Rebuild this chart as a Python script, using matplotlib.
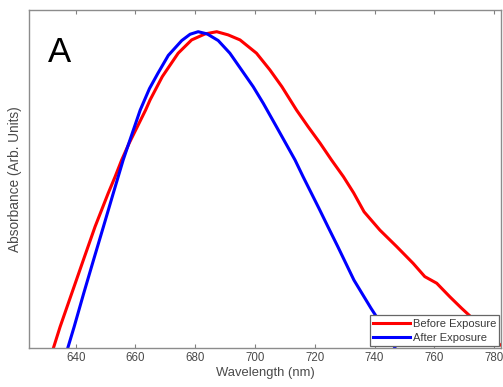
import matplotlib
matplotlib.use("Agg")
import matplotlib.pyplot as plt

plt.rcParams["font.family"] = ["Liberation Sans", "DejaVu Sans"]

# Absorbance spectra (normalised), before and after exposure
wl_before = [632.6, 634.8, 638.7, 642.6, 646.5, 650.9, 653.2, 655.4, 657.9, 663.4,
             664.9, 669.0, 674.3, 678.8, 683.3, 687.2, 691.0, 695.0, 700.5, 705.0,
             709.0, 713.9, 717.8, 721.8, 725.6, 729.6, 733.0, 736.5, 741.8, 747.4,
             752.9, 756.8, 760.8, 765.2, 769.1, 775.5, 782.0]
abs_before = [0.000, 0.066, 0.172, 0.278, 0.383, 0.489, 0.541, 0.594, 0.647, 0.752,
              0.784, 0.858, 0.932, 0.974, 0.993, 1.000, 0.990, 0.974, 0.932, 0.879,
              0.826, 0.752, 0.699, 0.647, 0.594, 0.541, 0.490, 0.430, 0.372, 0.320,
              0.267, 0.225, 0.204, 0.161, 0.125, 0.069, 0.009]

wl_after = [637.4, 639.5, 642.7, 646.0, 649.3, 652.6, 655.9, 657.8, 661.6, 664.7,
            667.5, 671.0, 675.5, 678.3, 681.0, 684.0, 687.7, 691.6, 695.5, 699.4,
            702.8, 707.2, 713.4, 716.1, 721.4, 724.4, 727.7, 733.1, 738.8, 743.5,
            746.8]
abs_after = [0.000, 0.066, 0.172, 0.278, 0.383, 0.489, 0.594, 0.647, 0.752, 0.820,
             0.868, 0.925, 0.972, 0.992, 1.000, 0.993, 0.972, 0.932, 0.879, 0.826,
             0.773, 0.699, 0.594, 0.541, 0.441, 0.383, 0.320, 0.214, 0.125, 0.056,
             0.000]

x_ticks = [640, 660, 680, 700, 720, 740, 760, 780]

fig = plt.figure(figsize=(5.03, 3.87), dpi=100)
ax = fig.add_axes([29 / 503, 39.3 / 387, 472 / 503, 337.7 / 387])

ax.plot(wl_before, abs_before, color="#ff0000", lw=2.2, label="Before Exposure",
        solid_joinstyle="round")
ax.plot(wl_after, abs_after, color="#0000ff", lw=2.2, label="After Exposure",
        solid_joinstyle="round")

ax.set_xlim(624.4, 782.3)
ax.set_ylim(0, 1.0687)
ax.set_xticks(x_ticks)
ax.set_yticks([])
ax.tick_params(axis="x", direction="in", top=True, length=3, width=0.8,
               color="#808080", labelsize=8.3, labelcolor="#4a4a4a", pad=3)

for s in ax.spines.values():
    s.set_color("#8c8c8c")
    s.set_linewidth(1.0)

ax.set_xlabel("Wavelength (nm)", fontsize=9.4, color="#4a4a4a", labelpad=2)
ax.set_ylabel("Absorbance (Arb. Units)", fontsize=9.8, color="#4a4a4a", labelpad=5)

ax.text(0.040, 0.846, "A", transform=ax.transAxes, fontsize=25,
        color="black", va="baseline", ha="left")

leg = ax.legend(loc="lower right", fontsize=8, handlelength=3.3,
                handletextpad=0.25, borderpad=0.3, labelspacing=0.35,
                borderaxespad=0.15, fancybox=False, framealpha=1)
leg.get_frame().set_edgecolor("#666666")
leg.get_frame().set_linewidth(0.9)
for t in leg.get_texts():
    t.set_color("#3a3a3a")

fig.savefig("out.png", dpi=100)
